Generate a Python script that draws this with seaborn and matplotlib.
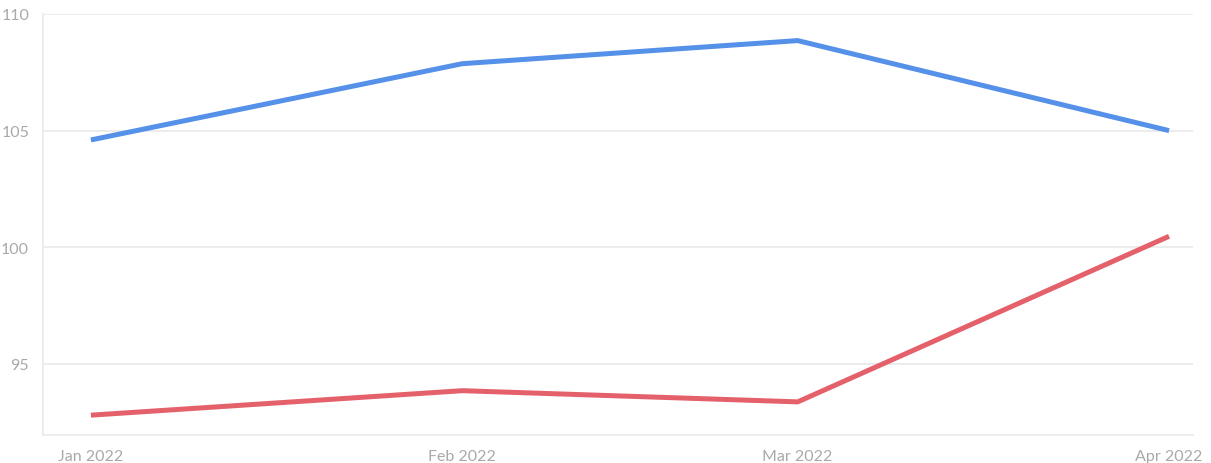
import matplotlib
matplotlib.use("Agg")
import matplotlib.pyplot as plt
import matplotlib.dates as mdates
import seaborn as sns
import pandas as pd

months = ["2022-01-01", "2022-02-01", "2022-03-01", "2022-04-01"]
series_a = [104.6, 107.87, 108.86, 105.0]
series_b = [92.8, 93.85, 93.37, 100.47]
series_names = ["A", "B"]
colors = ["#5590e9", "#e4606a"]

df = pd.DataFrame({
    "date": pd.to_datetime(months * 2),
    "value": series_a + series_b,
    "series": [series_names[0]] * 4 + [series_names[1]] * 4,
})

sns.set_style("white")
plt.rcParams["font.family"] = ["Lato", "DejaVu Sans"]

fig = plt.figure(figsize=(12.11, 4.64), dpi=100)
ax = fig.add_axes([43 / 1211, 1 - 436 / 464, (1193 - 43) / 1211, (436 - 15) / 464])

sns.lineplot(data=df, x="date", y="value", hue="series", palette=colors,
             linewidth=3.6, legend=False, ax=ax, solid_capstyle="butt")

ax.set_xlim(pd.Timestamp("2021-12-28"), pd.Timestamp("2022-04-03"))
ax.set_ylim(91.95, 110)
ax.set_yticks([95, 100, 105, 110])
ax.xaxis.set_major_locator(mdates.MonthLocator())
ax.xaxis.set_major_formatter(mdates.DateFormatter("%b %Y"))
ax.set_xlabel("")
ax.set_ylabel("")

grid_c = "#ebebeb"
ax.grid(axis="y", color=grid_c, linewidth=1.3)
ax.grid(axis="x", visible=False)
for s in ["top", "right"]:
    ax.spines[s].set_visible(False)
for s in ["left", "bottom"]:
    ax.spines[s].set_color(grid_c)
    ax.spines[s].set_linewidth(1.3)
ax.tick_params(axis="both", colors="#e0e0e0", labelcolor="#a9a9a9",
               labelsize=11.5, length=6, width=1.3)
ax.tick_params(axis="y", pad=4)
ax.tick_params(axis="x", pad=4)

fig.savefig("out.png", dpi=100)
